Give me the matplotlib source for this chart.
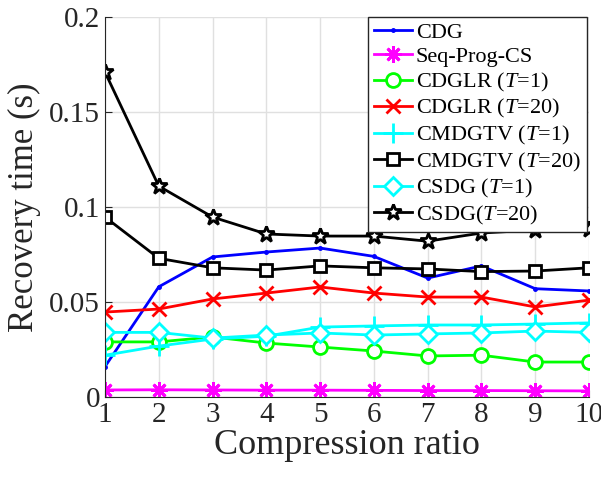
import numpy as np
import matplotlib.pyplot as plt

plt.rcParams['font.family'] = ['Liberation Serif', 'DejaVu Serif']
plt.rcParams['mathtext.fontset'] = 'custom'
plt.rcParams['mathtext.it'] = 'Liberation Serif:italic'
plt.rcParams['mathtext.rm'] = 'Liberation Serif'

ratio = [1, 2, 3, 4, 5, 6, 7, 8, 9, 10]

cdg = [0.016, 0.058, 0.0737, 0.0763, 0.0784, 0.074, 0.0626, 0.069, 0.057, 0.0558]
seq_prog_cs = [0.0037, 0.0038, 0.0037, 0.0036, 0.0036, 0.0035, 0.0034, 0.0034, 0.0033, 0.0032]
cdglr_t1 = [0.029, 0.029, 0.0316, 0.0284, 0.0263, 0.0242, 0.0216, 0.022, 0.0184, 0.0184]
cdglr_t20 = [0.0447, 0.0463, 0.0516, 0.0547, 0.0579, 0.0547, 0.0526, 0.0526, 0.0474, 0.051]
cmdgtv_t1 = [0.022, 0.0268, 0.0305, 0.032, 0.0368, 0.0374, 0.0379, 0.0379, 0.0384, 0.039]
cmdgtv_t20 = [0.0947, 0.073, 0.068, 0.0668, 0.069, 0.068, 0.0674, 0.066, 0.0663, 0.068]
csdg_t1 = [0.034, 0.034, 0.031, 0.0326, 0.0337, 0.0326, 0.0332, 0.0337, 0.0347, 0.034]
csdg_t20 = [0.171, 0.111, 0.0947, 0.0858, 0.0847, 0.0847, 0.082, 0.0863, 0.0879, 0.0884]

fig = plt.figure(figsize=(6.01, 4.82), dpi=100)
ax = fig.add_axes([105 / 601, 1 - 397 / 482, (589 - 105) / 601, (397 - 17) / 482])

lw = 2
ax.plot(ratio, cdg, color='#0000ff', marker='.', ms=5, lw=lw, label='CDG')
# MATLAB style '*' marker: eight spokes
ax.plot(ratio, seq_prog_cs, color='#ff00ff', marker=(8, 2, 0), ms=12, mew=2, lw=lw,
        label='Seq-Prog-CS')
ax.plot(ratio, cdglr_t1, color='#00ff00', marker='o', ms=10, mfc='white', mew=2, lw=lw,
        label='CDGLR ($T$=1)')
ax.plot(ratio, cdglr_t20, color='#ff0000', marker='x', ms=10, mew=2, lw=lw,
        label='CDGLR ($T$=20)')
ax.plot(ratio, cmdgtv_t1, color='#00ffff', marker='+', ms=14, mew=2, lw=lw,
        label='CMDGTV ($T$=1)')
ax.plot(ratio, cmdgtv_t20, color='black', marker='s', ms=9, mfc='white', mew=2, lw=lw,
        label='CMDGTV ($T$=20)')
ax.plot(ratio, csdg_t1, color='#00ffff', marker='D', ms=9, mfc='white', mew=2, lw=lw,
        label='CSDG ($T$=1)')
ax.plot(ratio, csdg_t20, color='black', marker='*', ms=12, mfc='white', mew=2, lw=lw,
        label='CSDG($T$=20)')

ax.set_xlim(1, 10)
ax.set_ylim(0, 0.2)
ax.set_xticks(ratio)
ax.set_yticks([0, 0.05, 0.1, 0.15, 0.2])
ax.set_yticklabels(['0', '0.05', '0.1', '0.15', '0.2'])
ax.tick_params(labelsize=21, direction='in', length=5, color='#262626', labelcolor='#262626')
ax.grid(True, color='#e0e0e0', lw=1)
ax.set_axisbelow(True)
for s in ['top', 'right']:
    ax.spines[s].set_visible(False)
for s in ['left', 'bottom']:
    ax.spines[s].set_color('#262626')

ax.set_xlabel('Compression ratio', fontsize=26, color='#262626', labelpad=1)
ax.set_ylabel('Recovery time (s)', fontsize=25, color='#262626', labelpad=6)

leg = ax.legend(loc='upper right', fontsize=16, frameon=True, fancybox=False,
                edgecolor='#262626', framealpha=1, handlelength=1.7,
                handletextpad=0.2, labelspacing=0.16, borderpad=0.25,
                borderaxespad=0.0, bbox_to_anchor=(0.995, 1.0))
leg.get_frame().set_linewidth(1)

fig.savefig('out.png', dpi=100)
